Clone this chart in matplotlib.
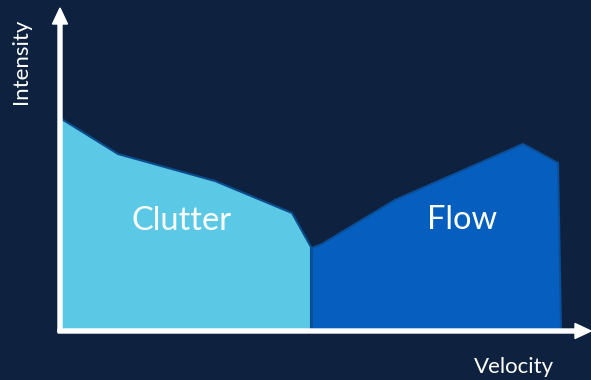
import matplotlib.pyplot as plt
from matplotlib.patches import Polygon

# velocity / intensity profile (pixel-ish units, origin at axes corner)
clutter_v = [0, 58, 155, 232, 251]
clutter_i = [213, 177, 150, 118, 84]
flow_v = [252, 262, 335, 463, 498, 501]
flow_i = [83, 87, 131, 187, 168, 0]

bg = "#0E2240"
fig = plt.figure(figsize=(5.91, 3.80), dpi=100, facecolor=bg)
ax = fig.add_axes([0, 0, 1, 1])
ax.set_facecolor(bg)
ax.set_xlim(-60, 531)
ax.set_ylim(-49, 331)
ax.axis("off")

cl = list(zip(clutter_v, clutter_i)) + [(clutter_v[-1], 0), (clutter_v[0], 0)]
ax.add_patch(Polygon(cl, closed=True, facecolor="#5BC9E6", edgecolor="#0B4C8E", lw=1.5, zorder=2))
fl = list(zip(flow_v, flow_i)) + [(flow_v[0], 0)]
ax.add_patch(Polygon(fl, closed=True, facecolor="#065FBF", edgecolor="#0A4F9A", lw=1.5, zorder=2))

# axes arrows
ax.arrow(0, -1, 0, 324, width=4, head_width=15, head_length=16,
         length_includes_head=True, color="white", zorder=3)
ax.arrow(-2, 0, 533, 0, width=4, head_width=15, head_length=16,
         length_includes_head=True, color="white", zorder=3)

font = "Lato"
ax.text(122, 110, "Clutter", color="white", fontsize=23.5, family=font, ha="center", va="center")
ax.text(402, 111, "Flow", color="white", fontsize=23.5, family=font, ha="center", va="center")
ax.text(-39, 270, "Intensity", color="white", fontsize=16, family=font, rotation=90,
        ha="center", va="center")
ax.text(454, -36, "Velocity", color="white", fontsize=16, family=font, ha="center", va="center")

fig.savefig("out.png", dpi=100, facecolor=bg)
